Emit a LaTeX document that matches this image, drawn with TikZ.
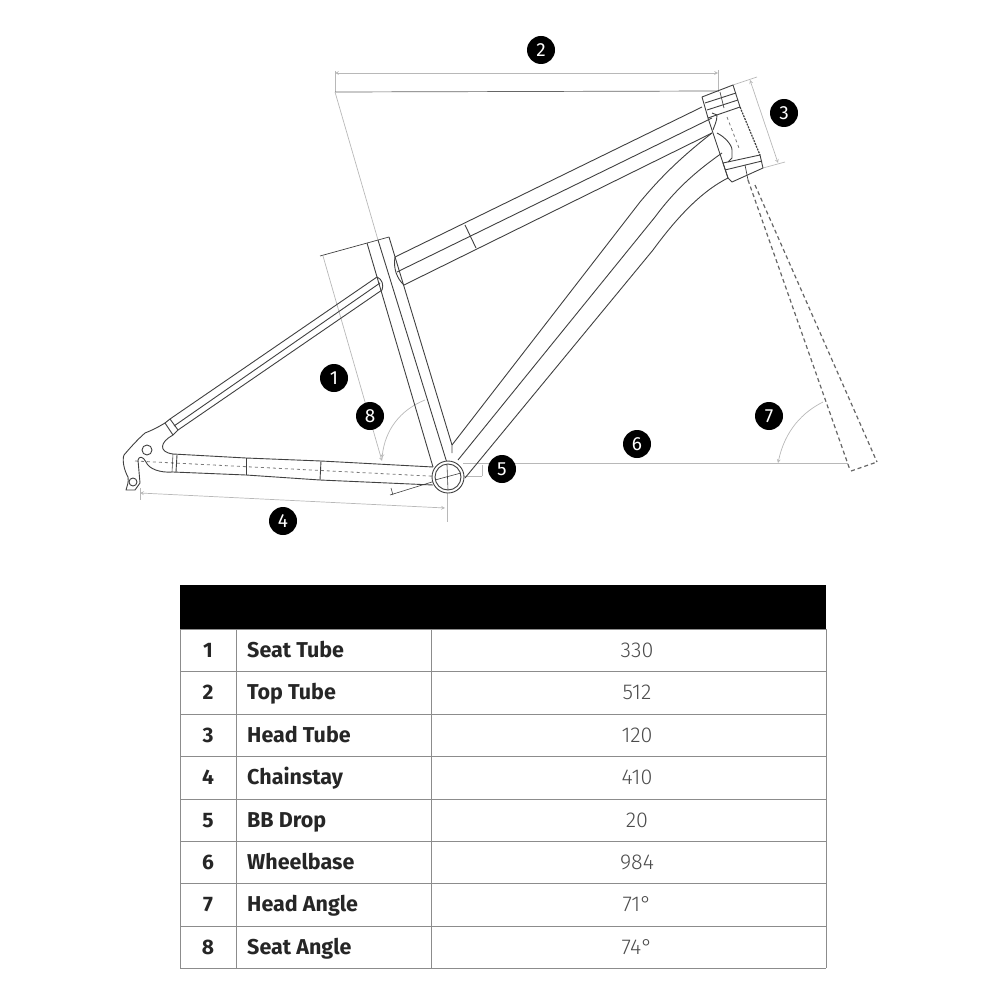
\documentclass[tikz,border=0pt]{standalone}
\usepackage{fontspec}
\setmainfont{Fira Sans}
\newfontfamily\lightfont{Fira Sans Light}
\definecolor{tubegray}{gray}{0.25}
\definecolor{dimgray}{gray}{0.72}
\definecolor{rulegray}{gray}{0.55}
\tikzset{
	tube/.style={draw=tubegray,line width=0.9pt,line join=round},
	dimline/.style={draw=dimgray,line width=0.7pt},
	dimarrow/.style={dimline,<->,>=stealth},
	centerline/.style={draw=tubegray!70,line width=0.8pt,dashed},
	forkline/.style={draw=tubegray!80,line width=1.2pt,dash pattern=on 4pt off 3pt},
	bubble/.style={circle,fill=black,text=white,minimum size=28pt,inner sep=0pt,font=\fontsize{19}{22}\selectfont},
	rule/.style={draw=rulegray,line width=0.9pt},
	rowno/.style={font=\fontsize{21}{24}\selectfont\bfseries,text=black!85,inner sep=0pt,anchor=base},
	rowname/.style={font=\fontsize{21.5}{24}\selectfont\bfseries,text=black!85,inner sep=0pt,anchor=base west},
	rowval/.style={font=\fontsize{21.5}{24}\lightfont,text=black!70,inner sep=0pt,anchor=base}
}
\begin{document}
\begin{tikzpicture}[x=1pt,y=-1pt]
\useasboundingbox (0,0) rectangle (1000,1000);

% dimension lines
\draw[dimarrow] (335,73)--(718,73);
\draw[dimline] (335,71)--(335,92);
\draw[dimline] (718,70)--(718,92);
\draw[draw=tubegray!80,line width=0.7pt] (335,92)--(718,91);
\draw[dimline] (335,92)--(378,240);
\draw[tube,line width=0.7pt] (320,256)--(389,237);
\draw[dimline,->,>=stealth] (323,256)--(382,461);
\draw[dimline] (733,85)--(757,77);
\draw[dimline] (763,168)--(785,162);
\draw[dimarrow] (750,80)--(778,163);
\draw[dimarrow] (140,493)--(445,508);
\draw[dimline] (140,488)--(140,500);
\draw[dimline] (447,477)--(447,522);
\draw[dimline] (463,463)--(848,463);
\draw[dimline,<-,>=stealth] (778,463) .. controls (785,430) and (803,412) .. (823,402);
\draw[dimline,<-,>=stealth] (382,458) .. controls (385,430) and (400,410) .. (425,400);
\draw[tube,line width=0.6pt] (448,477)--(390,495);
\draw[tube,line width=0.6pt] (391,488)--(393,495);
\draw[dimline] (448,476)--(482,476);
\draw[dimline] (482,465)--(482,476);

% chainstay
\draw[tube] (173,454)--(246,458)--(321,461)--(433,467);
\draw[tube] (173,472)--(246,475)--(320,480)--(433,485);
\draw[tube] (246,458)--(246,475);
\draw[tube] (321,461)--(320,480);
\draw[tube,line width=0.6pt] (173,454)--(172,472);
\draw[tube] (177,455)--(176,472);
\draw[centerline] (135,461)--(448,477);

% dropout
\draw[tube] (165,423) .. controls (155,429) and (150,431) .. (145,433) .. controls (137,440) and (130,448) .. (124,455) .. controls (122,460) and (124,470) .. (128,477) .. controls (129,482) and (127,486) .. (126,490) -- (135,490) -- (140,483) -- (138,460) .. controls (139,456) and (143,456) .. (146,462) .. controls (149,469) and (160,473) .. (173,472);
\draw[tube] (173,435) .. controls (160,442) and (158,452) .. (173,454);
\draw[tube] (147,450) circle (5);
\draw[tube] (133,482) circle (4);

% seat stay
\draw[tube] (165,423)--(170,419)--(178,430)--(173,435)--cycle;
\draw[tube] (170,419)--(377,277);
\draw[tube] (174,426)--(380,283);
\draw[tube] (178,430)--(382,290);
\draw[tube] (377,277) .. controls (382,279) and (384,285) .. (382,290);

% seat tube
\draw[tube] (367,243)--(433,467);
\draw[tube] (378,240)--(447,463);
\draw[tube] (389,237)--(452,445)--(452,453);

% top tube
\draw[tube] (395,257)--(702,107);
\draw[tube] (397,272)--(712,118);
\draw[tube] (404,285)--(712,133);
\draw[tube] (395,257) .. controls (393,268) and (397,279) .. (404,285);
\draw[tube] (465,225)--(476,248);

% down tube
\draw[tube] (452,445)--(640,202) .. controls (660,178) and (680,158) .. (712,133);
\draw[tube] (458,460)--(655,217) .. controls (675,190) and (695,172) .. (722,153);
\draw[tube] (465,478)--(653,250) .. controls (675,220) and (700,192) .. (728,178);

% head tube
\draw[tube] (702,97)--(733,85)--(740,107)--(708,118)--cycle;
\draw[tube] (705,103)--(736,93);
\draw[tube] (707,110)--(738,100);
\draw[tube] (723,163)--(760,155)--(763,168)--(732,182)--(728,178)--cycle;
\draw[tube] (725,170)--(762,161);
\draw[tube,line width=1.2pt,dash pattern=on 2pt off 1pt] (740,107)--(760,155);
\draw[tube] (708,118)--(728,178);
\draw[tube] (712,113)--(717,115) .. controls (717,122) and (714,126) .. (713,130);
\draw[tube] (717,133) .. controls (725,137) and (732,145) .. (732,150)--(732,158)--(728,162);
\draw[tube,line width=0.7pt] (720,92)--(724,108);
\draw[tube,line width=0.7pt] (745,165)--(748,180);
\draw[centerline] (727,117)--(739,148);

% fork
\draw[forkline] (748,180)--(850,470);
\draw[forkline] (755,185)--(877,462);
\draw[forkline] (851,471)--(877,462);

% bottom bracket
\draw[tube,fill=white] (448,477) circle (16);
\draw[tube] (448,477) circle (13);
\draw[tube,line width=0.6pt] (435,480)--(461,473);
\draw[tube,line width=0.6pt] (447,465)--(448,490);

% number bubbles
\node[bubble] (bubbleA) at (334,378) {1};
\node[bubble] (bubbleB) at (541,50) {2};
\node[bubble] (bubbleC) at (784,113) {3};
\node[bubble] (bubbleD) at (283,521) {4};
\node[bubble] (bubbleE) at (502,469) {5};
\node[bubble] (bubbleF) at (637,444) {6};
\node[bubble] (bubbleG) at (769,416) {7};
\node[bubble] (bubbleH) at (370,416) {8};

% table
\fill[black] (180,585) rectangle (826,629);
\foreach \y in {629,671,714,756,799,841,883,926,968}{
	\draw[rule] (180,\y)--(826,\y);
}
\foreach \x in {180,236,431,826}{
	\draw[rule] (\x,629)--(\x,968);
}
\foreach \n/\y/\name/\val in {1/657/Seat Tube/330,2/699/Top Tube/512,3/742/Head Tube/120,4/784/Chainstay/410,5/827/BB Drop/20,6/869/Wheelbase/984,7/911/Head Angle/71\textdegree,8/954/Seat Angle/74\textdegree}{
	\node[rowno] (no\n) at (208,\y) {\n};
	\node[rowname] (name\n) at (247,\y) {\name};
	\node[rowval] (val\n) at (637,\y) {\val};
}
\end{tikzpicture}
\end{document}
